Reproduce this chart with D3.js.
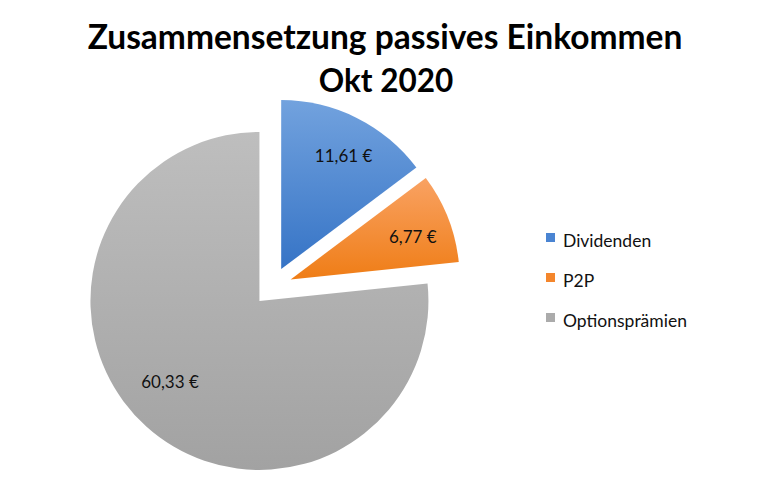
<!DOCTYPE html>
<html><head><meta charset="utf-8">
<script src="https://cdn.jsdelivr.net/npm/d3@7"></script>
<style>
html,body{margin:0;padding:0;background:#fff;}
svg{display:block;}
text{font-family:Lato,"Open Sans",sans-serif;}
</style></head>
<body>
<svg id="chart" width="774" height="492"></svg>
<script>
const titleLines = ["Zusammensetzung passives Einkommen", "Okt 2020"];
const categories = ["Dividenden", "P2P", "Optionsprämien"];
const values = [11.61, 6.77, 60.33];
const labels = ["11,61 €", "6,77 €", "60,33 €"];
const colorsTop = ["#72a2de", "#f9a263", "#bebebe"];
const colorsBottom = ["#3674c6", "#ef7d16", "#a2a2a2"];
const legendColors = ["#4a84d2", "#f4862c", "#ababab"];

const svg = d3.select("#chart");
const cx = 272.5, cy = 286.5, R = 169, explode = 19.5;

const defs = svg.append("defs");
categories.forEach((c, i) => {
  const g = defs.append("linearGradient").attr("id", "grad" + i)
    .attr("x1", 0).attr("y1", 0).attr("x2", 0).attr("y2", 1);
  g.append("stop").attr("offset", "0%").attr("stop-color", colorsTop[i]);
  g.append("stop").attr("offset", "100%").attr("stop-color", colorsBottom[i]);
});

// Title
const title = svg.append("text").attr("text-anchor", "middle")
  .attr("font-weight", "bold").attr("fill", "#000");
title.append("tspan").attr("x", 385).attr("y", 49).attr("font-size", 33.5).text(titleLines[0]);
title.append("tspan").attr("x", 386).attr("y", 92).attr("font-size", 31.5).text(titleLines[1]);

// Pie
const pie = d3.pie().sort(null).value(d => d).startAngle(0).endAngle(2 * Math.PI);
const arcs = pie(values);
const arc = d3.arc().innerRadius(0).outerRadius(R);

const g = svg.append("g").attr("transform", `translate(${cx},${cy})`);
const slices = g.selectAll("g.slice").data(arcs).enter().append("g")
  .attr("class", "slice")
  .attr("transform", d => {
    const a = (d.startAngle + d.endAngle) / 2;
    return `translate(${explode * Math.sin(a)},${-explode * Math.cos(a)})`;
  });
slices.append("path").attr("d", arc).attr("fill", (d, i) => `url(#grad${i})`);
slices.append("text")
  .attr("transform", d => {
    const big = (d.endAngle - d.startAngle) > Math.PI;
    const r = R * (big ? 0.715 : 0.765);
    const a = (d.startAngle + d.endAngle) / 2 + (big ? 0.1 : 0.04);
    return `translate(${r * Math.sin(a)},${-r * Math.cos(a)})`;
  })
  .attr("text-anchor", "middle").attr("dy", "0.35em")
  .attr("font-size", 17).attr("fill", "#111")
  .text((d, i) => labels[i]);

// Legend
const legend = svg.append("g").attr("transform", "translate(546,233)");
const items = legend.selectAll("g").data(categories).enter().append("g")
  .attr("transform", (d, i) => `translate(0,${i * 40})`);
items.append("rect").attr("width", 9).attr("height", 9).attr("fill", (d, i) => legendColors[i]);
items.append("text").attr("x", 17).attr("y", 14).attr("font-size", 17.5).attr("fill", "#111").text(d => d);
</script>
</body></html>
